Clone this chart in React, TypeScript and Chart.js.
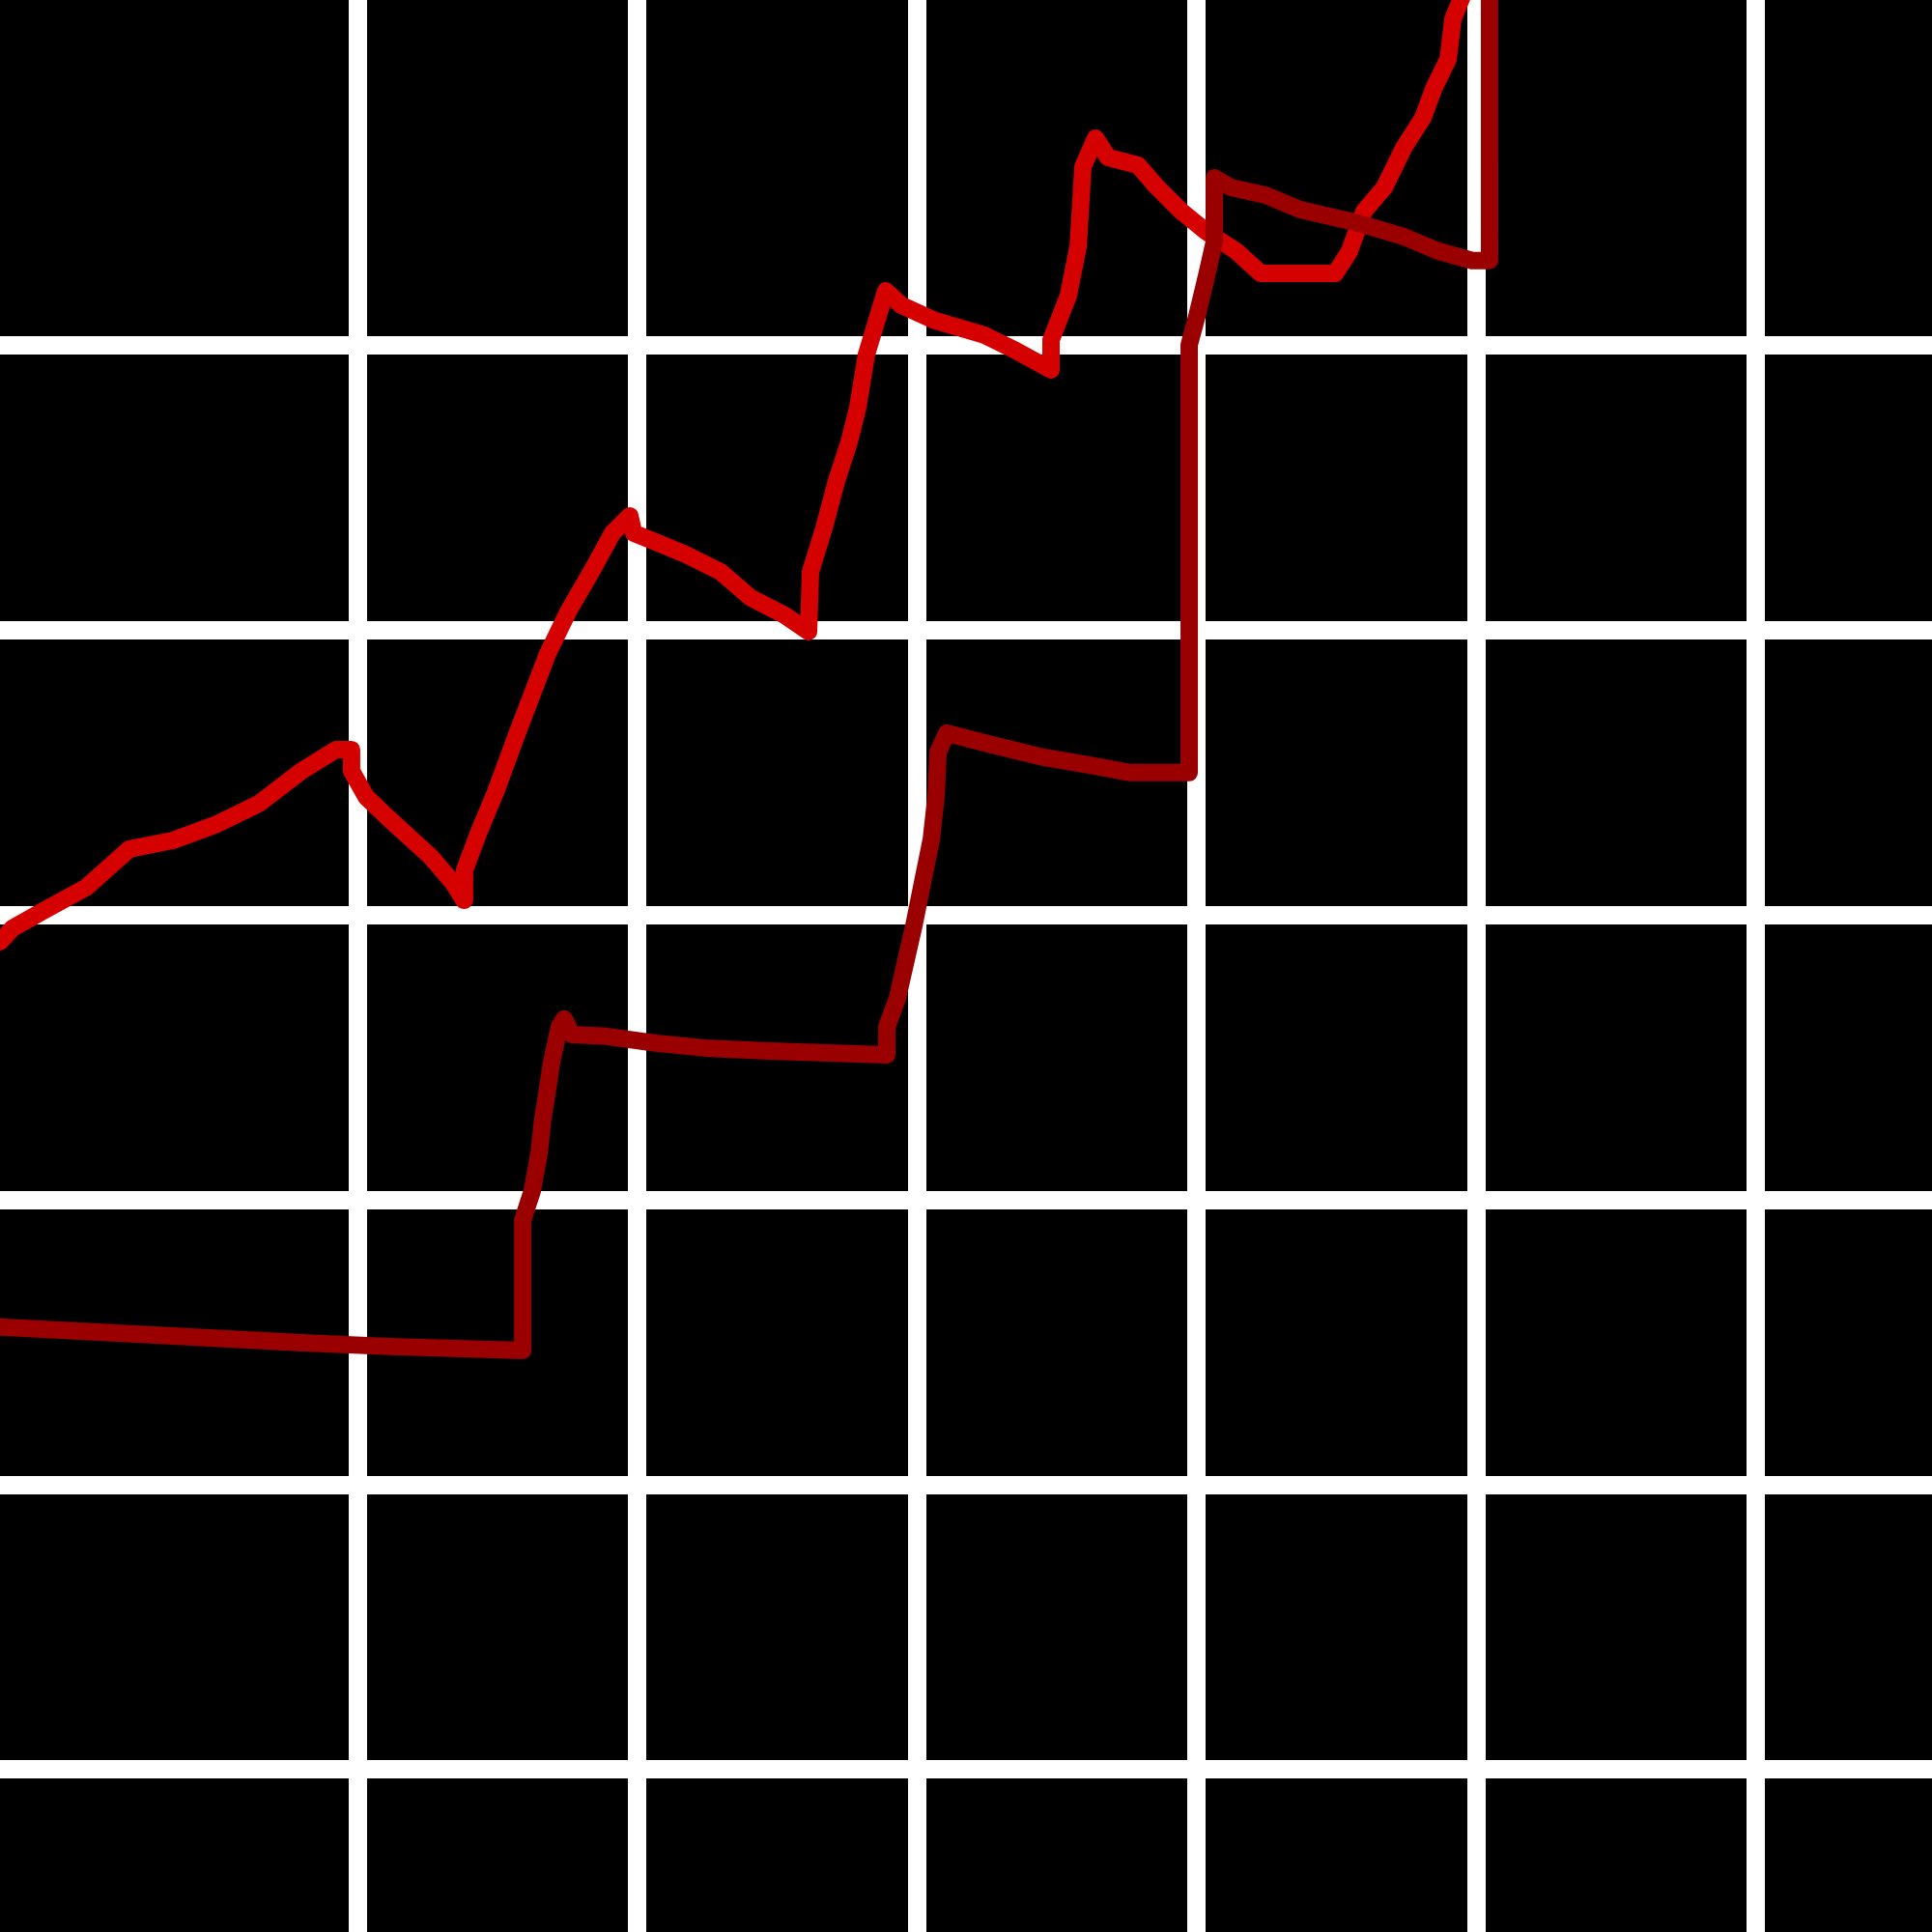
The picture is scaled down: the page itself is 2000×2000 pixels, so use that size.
import { useEffect, useRef } from "react"
import Chart from "chart.js/auto"

// grid units: one cell = 10
const brightX = [
  -12.78, -12.33, -11.23, -9.71, -8.15, -6.6, -5.08, -3.52, -2.0, -0.76, -0.21, -0.21, 0.31, 1.11, 2.62, 3.42,
  3.8, 3.83, 4.35, 4.94, 5.73, 6.8, 7.56, 8.36, 9.12, 9.74, 9.88, 10.67, 11.74, 12.99, 14.06, 15.27, 16.13,
  16.2, 16.68, 17.13, 17.58, 17.89, 18.2, 18.89, 19.45, 20.66, 22.42, 23.49, 24.8, 24.8, 25.42, 25.77, 25.94,
  26.39, 26.84, 27.91, 28.6, 29.46, 30.36, 31.43, 32.3, 34.96, 35.47, 35.99, 36.72, 37.41, 38.1, 38.48, 39.0,
  39.17, 39.52,
]
const brightY = [
  29.07, 29.55, 30.16, 30.97, 32.33, 32.63, 33.18, 33.92, 35.07, 35.82, 35.82, 35.07, 34.16, 33.41, 32.06,
  31.14, 30.53, 31.58, 32.94, 34.33, 36.43, 39.18, 40.71, 42.06, 43.42, 44.03, 43.42, 43.11, 42.67, 42.06,
  41.15, 40.54, 39.96, 42.06, 43.59, 45.25, 46.61, 47.83, 49.69, 51.93, 51.42, 50.88, 50.37, 49.86, 49.15,
  50.2, 51.76, 53.49, 56.28, 57.29, 56.61, 56.34, 55.56, 54.72, 54.0, 53.32, 52.54, 52.54, 53.32, 54.72,
  55.56, 56.95, 58.01, 59.02, 60.07, 61.47, 62.31,
]

const darkX = [
  -12.78, -6.6, -2.0, 1.11, 5.91, 5.91, 6.25, 6.5, 6.62, 6.77, 6.94, 7.22, 7.39, 7.67, 8.91, 10.67, 12.44,
  14.51, 16.82, 18.93, 18.93, 19.31, 19.9, 20.21, 20.52, 20.69, 20.76, 21.07, 21.45, 22.69, 24.53, 26.39,
  27.63, 29.74, 29.74, 30.02, 30.36, 30.64, 30.64, 31.23, 32.47, 33.71, 35.65, 37.41, 38.65, 39.86, 40.48,
  40.48,
]
const darkY = [
  15.54, 15.23, 14.99, 14.86, 14.72, 19.3, 20.32, 21.68, 22.8, 23.71, 24.83, 26.09, 26.36, 25.81, 25.75,
  25.51, 25.34, 25.24, 25.17, 25.1, 26.09, 27.1, 29.65, 31.17, 32.67, 34.19, 35.72, 36.4, 36.3, 35.99, 35.55,
  35.24, 35.01, 35.01, 50.03, 51.05, 52.44, 53.66, 55.9, 55.56, 55.29, 54.78, 54.34, 53.83, 53.32, 52.99,
  52.99, 62.31,
]

const gridTicks = [0, 10, 20, 30, 40, 50]

function toPoints(xs: number[], ys: number[]) {
  return xs.map((x, i) => ({ x, y: ys[i] }))
}

export default function App() {
  const chartRef = useRef<HTMLCanvasElement>(null)
  const chartInstance = useRef<Chart | null>(null)

  useEffect(() => {
    document.body.style.margin = "0"
    if (!chartRef.current) return
    if (chartInstance.current) chartInstance.current.destroy()

    const grid = {
      color: "#ffffff",
      lineWidth: 19,
      drawTicks: false,
    }
    const keepGrid = (axis: any) => {
      axis.ticks = axis.ticks.filter((t: any) => gridTicks.includes(t.value))
    }

    chartInstance.current = new Chart(chartRef.current, {
      type: "line",
      data: {
        datasets: [
          {
            label: "B",
            data: toPoints(darkX, darkY),
            borderColor: "#9b0000",
          },
          {
            label: "A",
            data: toPoints(brightX, brightY),
            borderColor: "#d50000",
          },
        ],
      },
      options: {
        animation: false,
        responsive: true,
        maintainAspectRatio: false,
        layout: { padding: 0 },
        elements: {
          line: {
            borderWidth: 18,
            tension: 0,
            borderCapStyle: "round",
            borderJoinStyle: "round",
          },
          point: { radius: 0, hoverRadius: 0 },
        },
        scales: {
          x: {
            type: "linear",
            min: -12.78,
            max: 56.3,
            ticks: { display: false, stepSize: 10 },
            grid,
            border: { display: false },
            afterBuildTicks: keepGrid,
          },
          y: {
            type: "linear",
            min: -5.7,
            max: 62.14,
            ticks: { display: false, stepSize: 10 },
            grid,
            border: { display: false },
            afterBuildTicks: keepGrid,
          },
        },
        plugins: {
          legend: { display: false },
          tooltip: { enabled: false },
        },
      },
    })

    return () => {
      if (chartInstance.current) {
        chartInstance.current.destroy()
        chartInstance.current = null
      }
    }
  }, [])

  return (
    <div style={{ width: 2000, height: 2000, background: "#000", position: "relative" }}>
      <canvas ref={chartRef} />
    </div>
  )
}
